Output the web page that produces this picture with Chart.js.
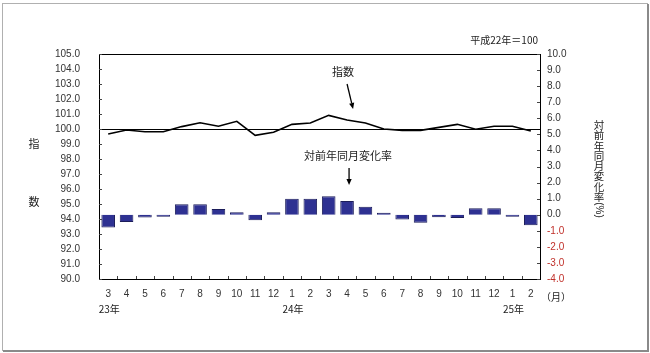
<!DOCTYPE html>
<html><head><meta charset="utf-8">
<script src="https://cdn.jsdelivr.net/npm/chart.js@4"></script>
<style>html,body{margin:0;padding:0;background:#fff;}canvas{display:block;}</style>
</head><body>
<canvas id="c" width="650" height="353"></canvas>
<script>
const monthLabels = ['3','4','5','6','7','8','9','10','11','12','1','2','3','4','5','6','7','8','9','10','11','12','1','2'];
const yearLabels = [{idx:0,text:'23年'},{idx:10,text:'24年'},{idx:22,text:'25年'}];
const indexValues = [99.67,99.93,99.82,99.82,100.16,100.42,100.18,100.51,99.58,99.78,100.31,100.40,100.91,100.60,100.40,100.00,99.91,99.91,100.11,100.31,99.98,100.18,100.18,99.87];
const changeValues = [-0.8,-0.45,-0.17,-0.12,0.65,0.65,0.35,0.15,-0.35,0.15,1.0,1.0,1.15,0.85,0.5,0.12,-0.3,-0.5,-0.15,-0.2,0.4,0.4,-0.12,-0.65];
const leftMin = 90, leftMax = 105, rightMin = -4, rightMax = 10;
const baseValue = 100;

const JP = '"Noto Sans CJK JP", sans-serif';
const NUM = '"Liberation Sans", Arial, sans-serif';

function arrow(ctx, x1, y1, x2, y2) {
  ctx.save();
  ctx.strokeStyle = '#000'; ctx.fillStyle = '#000'; ctx.lineWidth = 1.3;
  const a = Math.atan2(y2 - y1, x2 - x1);
  const hl = 6, hw = 2.6;
  const bx = x2 - hl * Math.cos(a), by = y2 - hl * Math.sin(a);
  ctx.beginPath(); ctx.moveTo(x1, y1); ctx.lineTo(bx, by); ctx.stroke();
  ctx.beginPath();
  ctx.moveTo(x2, y2);
  ctx.lineTo(bx + hw * Math.sin(a), by - hw * Math.cos(a));
  ctx.lineTo(bx - hw * Math.sin(a), by + hw * Math.cos(a));
  ctx.closePath(); ctx.fill();
  ctx.restore();
}

const decor = {
  id: 'decor',
  afterDraw(chart) {
    const ctx = chart.ctx, ca = chart.chartArea;
    const x = chart.scales.x, y = chart.scales.y, y2 = chart.scales.y2;
    ctx.save();
    // outer frame
    ctx.strokeStyle = '#b0b0b0'; ctx.lineWidth = 1;
    ctx.strokeRect(2.5, 3.5, 645, 347);
    ctx.strokeStyle = '#8a8a8a'; ctx.lineWidth = 2;
    ctx.beginPath(); ctx.moveTo(648, 4); ctx.lineTo(648, 351); ctx.lineTo(3, 351); ctx.stroke();
    // plot border
    ctx.strokeStyle = '#000'; ctx.lineWidth = 1;
    ctx.strokeRect(Math.round(ca.left) + 0.5, Math.round(ca.top) + 0.5, Math.round(ca.right - ca.left), Math.round(ca.bottom - ca.top));
    // 100 base line
    const by = Math.round(y.getPixelForValue(baseValue)) + 0.5;
    ctx.beginPath(); ctx.moveTo(ca.left, by); ctx.lineTo(ca.right, by); ctx.stroke();
    // inward ticks
    ctx.strokeStyle = '#444';
    for (let v = leftMin; v <= leftMax; v++) {
      const py = Math.round(y.getPixelForValue(v)) + 0.5;
      ctx.beginPath(); ctx.moveTo(ca.left, py); ctx.lineTo(ca.left + 3, py); ctx.stroke();
    }
    for (let v = rightMin; v <= rightMax; v++) {
      const py = Math.round(y2.getPixelForValue(v)) + 0.5;
      ctx.beginPath(); ctx.moveTo(ca.right - 3, py); ctx.lineTo(ca.right, py); ctx.stroke();
    }
    const step = (x.getPixelForValue(1) - x.getPixelForValue(0));
    for (let i = 1; i < monthLabels.length; i++) {
      const px = Math.round(x.getPixelForValue(i) - step / 2) + 0.5;
      ctx.beginPath(); ctx.moveTo(px, ca.bottom); ctx.lineTo(px, ca.bottom - 3); ctx.stroke();
    }
    // texts
    ctx.fillStyle = '#222';
    ctx.font = '10px ' + JP;
    ctx.textAlign = 'center'; ctx.textBaseline = 'middle';
    yearLabels.forEach(l => ctx.fillText(l.text, x.getPixelForValue(l.idx) + 1, ca.bottom + 30));
    ctx.fillText('（月）', ca.right + 16, ca.bottom + 18);
    ctx.textAlign = 'right';
    ctx.fillText('平成22年＝100', ca.right - 2, 40);
    ctx.textAlign = 'center';
    ctx.font = '11px ' + JP;
    ctx.fillText('指', 34, 144);
    ctx.fillText('数', 34, 202);
    const vt = ['対','前','年','同','月','変','化','率'];
    ctx.font = '10.5px ' + JP;
    vt.forEach((c, i) => ctx.fillText(c, 599, 125 + i * 10.3));
    ctx.save();
    ctx.translate(599, 210);
    ctx.rotate(Math.PI / 2);
    ctx.font = '10px ' + NUM;
    ctx.fillText('(%)', 0, 0);
    ctx.restore();
    // annotations
    ctx.font = '11px ' + JP;
    const ax = x.getPixelForValue(13);
    ctx.fillText('指数', ax - 4, 72);
    arrow(ctx, ax, 84, ax + 6, y.getPixelForValue(indexValues[13]) - 11);
    ctx.fillText('対前年同月変化率', ax + 1, 156);
    arrow(ctx, ax + 2, 168, ax + 2, y2.getPixelForValue(changeValues[13]) - 16);
    ctx.restore();
  }
};

new Chart(document.getElementById('c'), {
  data: {
    labels: monthLabels,
    datasets: [
      { type: 'line', data: indexValues, yAxisID: 'y', borderColor: '#000', borderWidth: 1.6,
        pointRadius: 0, tension: 0, order: 0 },
      { type: 'bar', data: changeValues, yAxisID: 'y2', backgroundColor: '#2e3192',
        borderColor: '#1c1d5a', borderWidth: 1, categoryPercentage: 1, barPercentage: 0.74, order: 1 }
    ]
  },
  options: {
    responsive: false, animation: false,
    layout: { padding: { left: 0, right: 0, top: 54, bottom: 0 } },
    plugins: { legend: { display: false }, tooltip: { enabled: false } },
    scales: {
      x: {
        offset: true,
        grid: { display: false, drawTicks: false }, border: { display: false },
        ticks: { color: '#333', font: { family: NUM, size: 10 }, padding: 9, maxRotation: 0, autoSkip: false },
        afterFit(s) { s.height = 74; }
      },
      y: {
        position: 'left', min: leftMin, max: leftMax,
        grid: { display: false, drawTicks: false }, border: { display: false },
        ticks: { stepSize: 1, color: '#333', font: { family: NUM, size: 10 }, padding: 19,
          callback: v => v.toFixed(1) },
        afterFit(s) { s.width = 99; }
      },
      y2: {
        position: 'right', min: rightMin, max: rightMax,
        grid: { display: false, drawTicks: false }, border: { display: false },
        ticks: { stepSize: 1, font: { family: NUM, size: 10 }, padding: 7,
          color: c => (c.tick && c.tick.value < 0) ? '#c0302a' : '#333',
          callback: v => v.toFixed(1) },
        afterFit(s) { s.width = 110; }
      }
    }
  },
  plugins: [decor]
});
</script>
</body></html>
